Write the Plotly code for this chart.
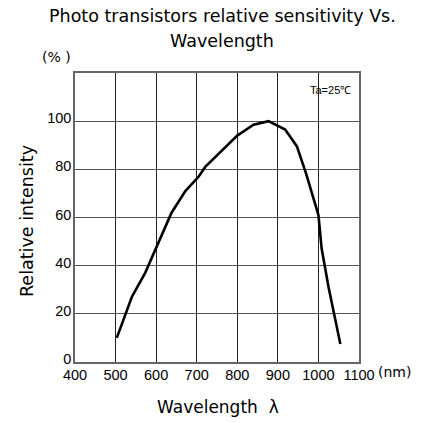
import plotly.graph_objects as go

wavelength = [503, 540, 573, 602, 638, 672, 705, 721, 758, 800, 840, 877, 918, 947, 970, 990, 1000, 1008, 1025, 1054]
intensity = [10, 27, 37, 48, 62, 71, 77, 81, 87, 94, 98.5, 100, 96.5, 89.5, 78, 66, 61, 47, 31, 7.5]

x_ticks = [400, 500, 600, 700, 800, 900, 1000, 1100]
y_ticks = [0, 20, 40, 60, 80, 100]

FONT = "Liberation Sans"
TFONT = "DejaVu Sans"
L, R, T, B = 75, 71, 73, 61
W, H = 430, 423

fig = go.Figure()
fig.add_trace(go.Scatter(x=wavelength, y=intensity, mode="lines",
                         line=dict(color="black", width=2.6), showlegend=False))

fig.update_layout(
    width=W, height=H,
    margin=dict(l=L, r=R, t=T, b=B),
    paper_bgcolor="white", plot_bgcolor="white",
    font=dict(family=FONT, color="black", size=14),
    xaxis=dict(range=[400, 1100], tickvals=x_ticks, ticktext=[str(v) for v in x_ticks],
               showgrid=True, gridcolor="#222", gridwidth=1.2,
               showline=True, linecolor="#666", linewidth=1.5, mirror=True,
               zeroline=False, ticks="", automargin=False, ticklabelstandoff=-1,
               tickfont=dict(size=14.5, family=FONT)),
    yaxis=dict(range=[0, 120], tickvals=y_ticks, ticktext=[str(v) for v in y_ticks],
               showgrid=True, gridcolor="#555", gridwidth=1.2,
               showline=True, linecolor="#666", linewidth=1.5, mirror=True,
               zeroline=False, ticks="", automargin=False, ticklabelstandoff=-1,
               ticklabelshift=-3,
               tickfont=dict(size=14.5, family=FONT)),
)

pw, ph = W - L - R, H - T - B

def add_text(text, px, py, size, angle=0, family=TFONT):
    fig.add_annotation(xref="paper", yref="paper",
                       x=(px - L) / pw, y=(H - B - py) / ph, showarrow=False,
                       text=text, font=dict(family=family, color="black", size=size),
                       xanchor="center", yanchor="middle", textangle=angle)

add_text("Photo transistors relative sensitivity Vs.", 222, 16, 17.5)
add_text("Wavelength", 222, 41, 17.5)
add_text("(% )", 56, 57, 14)
add_text("Ta=25\u2103", 330, 90, 11, family=FONT)
add_text("(nm)", 394, 372, 14)
add_text("Wavelength \u00a0\u03bb", 218, 407, 17)
add_text("Relative intensity", 27, 221, 17.5, -90)

fig.write_html("out.html", config={"displayModeBar": False},
               post_script="document.body.style.margin='0';document.body.style.padding='0';")
